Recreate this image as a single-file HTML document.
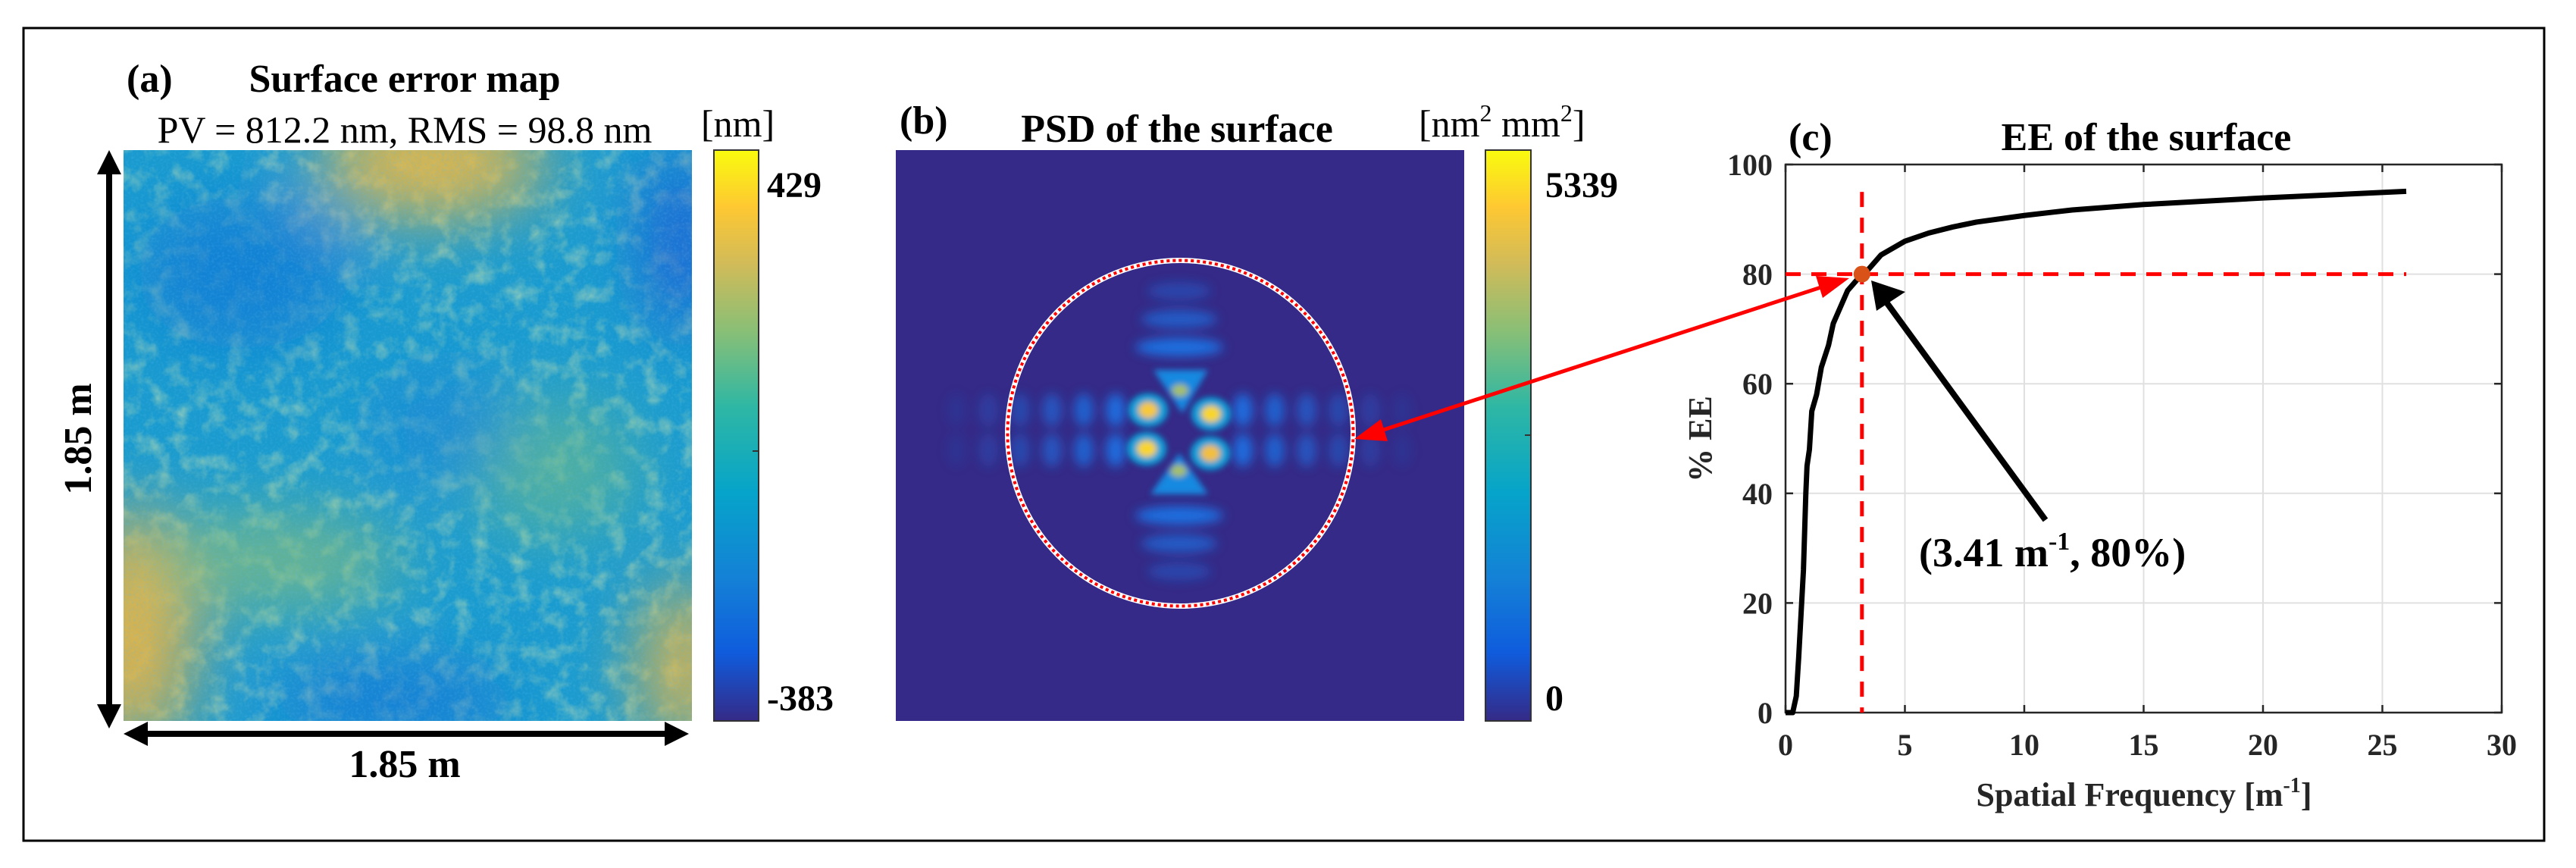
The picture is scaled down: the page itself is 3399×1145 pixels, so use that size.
<!DOCTYPE html>
<html><head><meta charset="utf-8"><style>
html,body{margin:0;padding:0;background:#fff}
svg{display:block;font-family:"Liberation Serif",serif}
text{font-family:"Liberation Serif",serif}
</style></head><body>
<svg id="root" width="3399" height="1145" viewBox="0 0 3399 1145" font-family="Liberation Serif, serif">
<defs>
<linearGradient id="parula" x1="0" y1="1" x2="0" y2="0">
<stop offset="0" stop-color="#352a87"/><stop offset="0.12" stop-color="#0f5cdd"/>
<stop offset="0.25" stop-color="#1481d6"/><stop offset="0.4" stop-color="#06a4ca"/>
<stop offset="0.55" stop-color="#2eb7a4"/><stop offset="0.68" stop-color="#87bf77"/>
<stop offset="0.8" stop-color="#d1bb59"/><stop offset="0.9" stop-color="#fec832"/>
<stop offset="1" stop-color="#f9fb0e"/></linearGradient>
<filter id="noise" x="0" y="0" width="1" height="1">
<feTurbulence type="fractalNoise" baseFrequency="0.04" numOctaves="4" seed="7" result="t"/>
<feColorMatrix in="t" type="matrix" values="0 0 0 0 0.52  0 0 0 0 0.74  0 0 0 0 0.45  0 0 0 2.0 -0.9" result="n"/>
<feComposite in="n" in2="SourceGraphic" operator="in"/>
</filter>
<filter id="noise2" x="0" y="0" width="1" height="1">
<feTurbulence type="fractalNoise" baseFrequency="0.3" numOctaves="2" seed="2" result="t"/>
<feColorMatrix in="t" type="matrix" values="0 0 0 0 0.1  0 0 0 0 0.5  0 0 0 0 0.85  0 0 0 1.8 -0.8" result="n"/>
<feComposite in="n" in2="SourceGraphic" operator="in"/>
</filter>
<filter id="blurA"><feGaussianBlur stdDeviation="45"/></filter>
<filter id="blurB"><feGaussianBlur stdDeviation="7"/></filter>
<filter id="blurC"><feGaussianBlur stdDeviation="4"/></filter>
<clipPath id="clipA"><rect x="163" y="198" width="750" height="753"/></clipPath>
<clipPath id="clipB"><rect x="1182" y="198" width="750" height="753"/></clipPath>
</defs>
<rect x="31" y="37" width="3326" height="1072" fill="none" stroke="#000" stroke-width="3"/>

<g>
<g clip-path="url(#clipA)">
<rect x="163" y="198" width="750" height="753" fill="#1a9bcf"/>
<rect x="163" y="198" width="750" height="753" fill="#fff" filter="url(#noise)" opacity="0.65"/>
<g filter="url(#blurA)">
<ellipse cx="570" cy="215" rx="150" ry="70" fill="#e6b846"/>
<ellipse cx="175" cy="830" rx="80" ry="160" fill="#e0b44a"/>
<ellipse cx="905" cy="880" rx="60" ry="110" fill="#d8b44e"/>
<ellipse cx="360" cy="740" rx="170" ry="60" fill="#86bd7c" opacity="0.8"/>
<ellipse cx="730" cy="620" rx="110" ry="90" fill="#6ab88c" opacity="0.7"/>
<ellipse cx="900" cy="320" rx="45" ry="120" fill="#1a5fd6"/>
<ellipse cx="320" cy="360" rx="140" ry="100" fill="#137ad6" opacity="0.8"/>
<ellipse cx="520" cy="925" rx="160" ry="45" fill="#1570d8" opacity="0.8"/>
<ellipse cx="580" cy="560" rx="90" ry="70" fill="#1688d4" opacity="0.8"/>
</g>
<rect x="163" y="198" width="750" height="753" fill="#fff" filter="url(#noise2)" opacity="0.3"/>
</g>
<rect x="942" y="198" width="59" height="753" fill="url(#parula)" stroke="#333" stroke-width="2"/>
<line x1="993" y1="595" x2="1001" y2="595" stroke="#333" stroke-width="2"/>
<text x="167" y="121" font-size="52" font-weight="bold">(a)</text>
<text x="534" y="121" font-size="52" font-weight="bold" text-anchor="middle">Surface error map</text>
<text x="534" y="188" font-size="50" text-anchor="middle">PV = 812.2 nm, RMS = 98.8 nm</text>
<text x="925" y="180" font-size="50">[nm]</text>
<text x="1012" y="260" font-size="48" font-weight="bold">429</text>
<text x="1012" y="937" font-size="48" font-weight="bold">-383</text>
<g fill="#000">
<rect x="140" y="225" width="8" height="710"/>
<path d="M144,198 L128,230 L160,230 z"/><path d="M144,961 L128,929 L160,929 z"/>
</g>
<text transform="translate(120,579) rotate(-90)" font-size="52" font-weight="bold" text-anchor="middle">1.85 m</text>
<g fill="#000">
<rect x="190" y="964" width="694" height="8"/>
<path d="M163,968 L195,952 L195,984 z"/><path d="M909,968 L877,952 L877,984 z"/>
</g>
<text x="534" y="1025" font-size="52" font-weight="bold" text-anchor="middle">1.85 m</text>
</g>

<g>
<g clip-path="url(#clipB)">
<rect x="1182" y="198" width="750" height="753" fill="#352a87"/>
<g id="lobes" filter="url(#blurB)"></g>
<g filter="url(#blurC)">
<path d="M1522,488 L1594,488 L1560,545 z" fill="#1789e0"/>
<path d="M1518,652 L1594,652 L1556,598 z" fill="#1789e0"/>
<ellipse cx="1515" cy="541" rx="26" ry="22" fill="#11a0d8"/>
<ellipse cx="1598" cy="546" rx="26" ry="22" fill="#11a0d8"/>
<ellipse cx="1513" cy="592" rx="26" ry="22" fill="#11a0d8"/>
<ellipse cx="1597" cy="598" rx="26" ry="22" fill="#11a0d8"/>
<ellipse cx="1515" cy="541" rx="13" ry="11" fill="#f7c83a"/>
<ellipse cx="1598" cy="546" rx="13" ry="11" fill="#f9d52a"/>
<ellipse cx="1513" cy="592" rx="13" ry="11" fill="#f9d52a"/>
<ellipse cx="1597" cy="598" rx="13" ry="11" fill="#f3bf3e"/>
<ellipse cx="1557" cy="515" rx="11" ry="8" fill="#a6bf68"/>
<ellipse cx="1555" cy="621" rx="11" ry="8" fill="#a6bf68"/>
</g>
<circle cx="1557.5" cy="571.5" r="228" fill="none" stroke="#fff" stroke-width="7"/>
<circle cx="1557.5" cy="571.5" r="228" fill="none" stroke="#ff0000" stroke-width="4" stroke-dasharray="4 4"/>
</g>
<rect x="1960" y="198" width="60" height="753" fill="url(#parula)" stroke="#333" stroke-width="2"/>
<line x1="2012" y1="574" x2="2020" y2="574" stroke="#333" stroke-width="2"/>
<text x="1187" y="176" font-size="52" font-weight="bold">(b)</text>
<text x="1553" y="187" font-size="52" font-weight="bold" text-anchor="middle">PSD of the surface</text>
<text x="1872" y="180" font-size="50">[nm<tspan font-size="32" dy="-20">2</tspan><tspan dy="20"> mm</tspan><tspan font-size="32" dy="-20">2</tspan><tspan dy="20">]</tspan></text>
<text x="2039" y="260" font-size="48" font-weight="bold">5339</text>
<text x="2039" y="937" font-size="48" font-weight="bold">0</text>
</g>

<g id="chartC"></g>
<g>
<line x1="1810" y1="572" x2="2415" y2="375" stroke="#ff0000" stroke-width="5"/>
<path d="M1787,579 L1822,553 L1831,582 z" fill="#ff0000"/>
<path d="M2440,367 L2405,393 L2396,364 z" fill="#ff0000"/>
</g>
</svg>
<script>
const eeFreq=[0,0.3,0.45,0.55,0.65,0.75,0.8,0.85,0.9,1.0,1.1,1.3,1.5,1.8,2.0,2.3,2.6,3.0,3.4,4.0,5.0,6.0,7.0,8.0,10,12,15,20,26];
const eePct=[0,0,3,10,18,26,33,40,45,48,55,58,63,67,71,74,77,79,80.5,83.5,86,87.5,88.6,89.5,90.7,91.7,92.7,93.9,95.1];
const xTicks=[0,5,10,15,20,25,30];
const yTicks=[0,20,40,60,80,100];
const markX=[3.2], markY=[80];
const lobeX=[-7,-6,-5,-4,-3,-2,2,3,4,5,6,7];
const lobeY=[-5,-4,-3,3,4,5];
const NS='http://www.w3.org/2000/svg';
function mk(tag,attrs,parent){const e=document.createElementNS(NS,tag);for(const k in attrs)e.setAttribute(k,attrs[k]);parent.appendChild(e);return e;}
const lg=document.getElementById('lobes');
lobeX.forEach(i=>{const a=Math.abs(i);const op=Math.max(0.12,0.95-(a-2)*0.17);
 [541,594].forEach(cy=>{const e=mk('ellipse',{cx:1556+i*42,cy:cy,rx:13,ry:22,fill:'#1a6fe0',opacity:op},lg);
 });});
lobeY.forEach(j=>{const a=Math.abs(j);const op=Math.max(0.25,1-(a-3)*0.3);
 const e=mk('ellipse',{cx:1556,cy:569+j*37,rx:58-(a-3)*8,ry:12,fill:'#1a6fe0',opacity:op},lg);
 });
const g=document.getElementById('chartC');
const X0=2356,X1=3301,Y0=940,Y1=217;
const sx=v=>X0+(v-0)/(30-0)*(X1-X0);
const sy=v=>Y0-(v-0)/(100-0)*(Y0-Y1);
xTicks.forEach(t=>{const l=mk('line',{x1:sx(t),x2:sx(t),y1:Y1,y2:Y0,stroke:'#e0e0e0','stroke-width':2},g);
 });
yTicks.forEach(t=>{const l=mk('line',{x1:X0,x2:X1,y1:sy(t),y2:sy(t),stroke:'#e0e0e0','stroke-width':2},g);
 });
const frame=mk('rect',{x:X0,y:Y1,width:X1-X0,height:Y0-Y1,fill:'none',stroke:'#262626','stroke-width':2.5},g);

xTicks.forEach(t=>{mk('line',{x1:sx(t),x2:sx(t),y1:Y0,y2:Y0-10,stroke:'#262626','stroke-width':2.5},g);
 mk('line',{x1:sx(t),x2:sx(t),y1:Y1,y2:Y1+10,stroke:'#262626','stroke-width':2.5},g);
 const tx=mk('text',{x:sx(t),y:996,'font-size':40,'font-weight':'bold','text-anchor':'middle',fill:'#262626'},g);tx.textContent=t;
 });
yTicks.forEach(t=>{mk('line',{x1:X0,x2:X0+10,y1:sy(t),y2:sy(t),stroke:'#262626','stroke-width':2.5},g);
 mk('line',{x1:X1,x2:X1-10,y1:sy(t),y2:sy(t),stroke:'#262626','stroke-width':2.5},g);
 const tx=mk('text',{x:2339,y:sy(t)+14,'font-size':40,'font-weight':'bold','text-anchor':'end',fill:'#262626'},g);tx.textContent=t;
 });
const vd=mk('line',{x1:sx(markX[0]),x2:sx(markX[0]),y1:sy(95),y2:Y0,stroke:'#ff0000','stroke-width':5,'stroke-dasharray':'20 14'},g);

const hd=mk('line',{x1:X0,x2:sx(26),y1:sy(markY[0]),y2:sy(markY[0]),stroke:'#ff0000','stroke-width':5,'stroke-dasharray':'20 14'},g);

const curve=mk('polyline',{points:eeFreq.map((f,i)=>sx(f)+','+sy(eePct[i])).join(' '),fill:'none',stroke:'#000','stroke-width':7,'stroke-linejoin':'round'},g);

const dot=mk('circle',{cx:sx(markX[0]),cy:sy(markY[0]),r:11,fill:'#d95319'},g);

const ba=mk('line',{x1:2699,y1:686,x2:2490,y2:400,stroke:'#000','stroke-width':8},g);

const bh=mk('path',{d:'M2469,370 L2514,385 L2476,410 z',fill:'#000'},g);

const ann=mk('text',{x:2532,y:747,'font-size':54,'font-weight':'bold',fill:'#000'},g);
ann.innerHTML='(3.41 m<tspan font-size="34" dy="-22">-1</tspan><tspan dy="22">, 80%)</tspan>';

const ti=mk('text',{x:2832,y:198,'font-size':52,'font-weight':'bold','text-anchor':'middle'},g);ti.textContent='EE of the surface';

const pl=mk('text',{x:2360,y:198,'font-size':52,'font-weight':'bold'},g);pl.textContent='(c)';

const xt=mk('text',{x:2829,y:1063,'font-size':44,'font-weight':'bold','text-anchor':'middle',fill:'#262626'},g);
xt.innerHTML='Spatial Frequency [m<tspan font-size="28" dy="-18">-1</tspan><tspan dy="18">]</tspan>';

const yt=mk('text',{transform:'translate(2258,579) rotate(-90)','font-size':44,'font-weight':'bold','text-anchor':'middle',fill:'#262626'},g);yt.textContent='% EE';

</script>
</body></html>
